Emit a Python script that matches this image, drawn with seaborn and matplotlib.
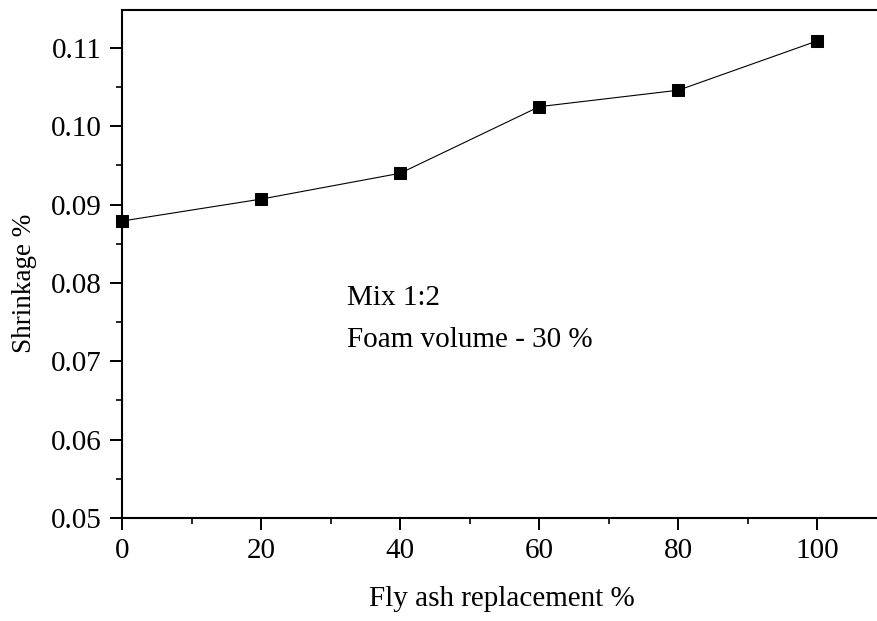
import matplotlib
matplotlib.use("Agg")
import matplotlib.pyplot as plt
import seaborn as sns
import pandas as pd
from matplotlib.ticker import MultipleLocator

fly_ash = [0, 20, 40, 60, 80, 100]
shrinkage = [0.0879, 0.0907, 0.0940, 0.1025, 0.1046, 0.1109]
xticks = [0, 20, 40, 60, 80, 100]
yticks = [0.05, 0.06, 0.07, 0.08, 0.09, 0.10, 0.11]

sns.set_style("ticks")
plt.rcParams['font.family'] = ['Liberation Serif', 'DejaVu Serif']
plt.rcParams['text.color'] = 'black'
plt.rcParams['axes.labelcolor'] = 'black'

df = pd.DataFrame({"x": fly_ash, "y": shrinkage})

fig = plt.figure(figsize=(8.78, 6.21), dpi=100)
ax = fig.add_axes([122/878, 103/621, (887-122)/878, (518-9.5)/621])
sns.lineplot(data=df, x="x", y="y", ax=ax, color="black", linewidth=0.8,
             marker="s", markersize=8, markeredgecolor="black",
             markerfacecolor="black", clip_on=False)

ax.set_xlim(0, 110)
ax.set_ylim(0.05, 0.1149)
ax.set_xticks(xticks)
ax.set_xticklabels([str(t) for t in xticks])
ax.set_yticks(yticks)
ax.set_yticklabels([f"{t:.2f}" for t in yticks])
ax.xaxis.set_minor_locator(MultipleLocator(10))
ax.yaxis.set_minor_locator(MultipleLocator(0.005))
ax.tick_params(which='major', direction='out', length=8.5, width=1.4,
               labelsize=21, colors='black', pad=6)
ax.tick_params(which='minor', direction='out', length=4.5, width=1.4)
for s in ax.spines.values():
    s.set_linewidth(1.5)
    s.set_color('black')
ax.set_xlabel("Fly ash replacement %", fontsize=21, color='black')
ax.set_ylabel("Shrinkage %", fontsize=19.5, color='black')
ax.xaxis.set_label_coords(0.497, -0.134)
ax.yaxis.set_label_coords(-0.111, 0.462)

ax.text(32.4, 0.0781, "Mix 1:2", fontsize=21, va='center', ha='left', color='black')
ax.text(32.4, 0.0727, "Foam volume - 30 %", fontsize=21, va='center', ha='left', color='black')

fig.savefig("out.png", dpi=100)
